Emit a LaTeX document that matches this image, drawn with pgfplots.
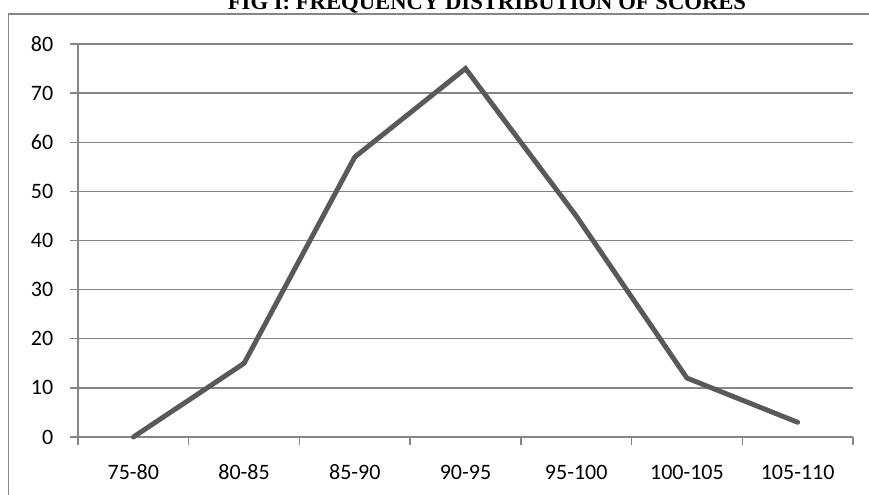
\documentclass[border=0pt]{standalone}
\usepackage{pgfplots}
\pgfplotsset{compat=1.18}
\usepackage{fontspec}
\setmainfont{Carlito}
\newfontfamily\titlefont{Liberation Serif}
\definecolor{gridgray}{HTML}{868686}
\definecolor{linegray}{HTML}{595959}

% 1px of the reference = 0.75pt, y measured from the top
\def\px{0.75pt}

\pgfplotstableread{
x y
0 0
1 15
2 57
3 75
4 45
5 12
6 3
}\scores

\begin{document}
\begin{tikzpicture}
\begin{scope}[x=\px, y=-\px]
\useasboundingbox (0,0) rectangle (869,495);
% outer chart frame (only left and top visible)
\draw[gridgray, line width=1.4pt] (8.5,500) -- (8.5,14) -- (870,14);
% title, partly cut off at the top
\node[anchor=base, font=\titlefont\bfseries\fontsize{17}{19}\selectfont, inner sep=0pt]
  at (487,10) {FIG I: FREQUENCY DISTRIBUTION OF SCORES};
\end{scope}
\begin{axis}[
    at={(58.5pt,-327.75pt)}, anchor=south west,
    scale only axis,
    width=581.25pt, height=294.75pt,
    xmin=-0.5, xmax=6.5,
    ymin=0, ymax=80,
    xtick={0,...,6},
    xticklabels={75-80,80-85,85-90,90-95,95-100,100-105,105-110},
    minor xtick={-0.5,0.5,...,6.5},
    major x tick style={draw=none},
    ytick={0,10,...,80},
    tick align=outside,
    major tick length=6pt,
    minor tick length=6pt,
    tick style={gridgray, line width=1pt},
    axis x line*=bottom,
    axis y line*=left,
    axis line style={gridgray, line width=1pt, -},
    ymajorgrids,
    major grid style={gridgray, line width=1pt},
    ticklabel style={font=\fontsize{16.5}{19}\selectfont, text=black},
    yticklabel style={xshift=-9pt},
    xticklabel style={yshift=-10pt, text height=12pt, text depth=2pt},
    /pgf/number format/assume math mode=true,
    clip=false,
]
\addplot[linegray, line width=3.7pt, mark=none, line cap=round] table[x=x, y=y] {\scores};
\end{axis}
\end{tikzpicture}
\end{document}
